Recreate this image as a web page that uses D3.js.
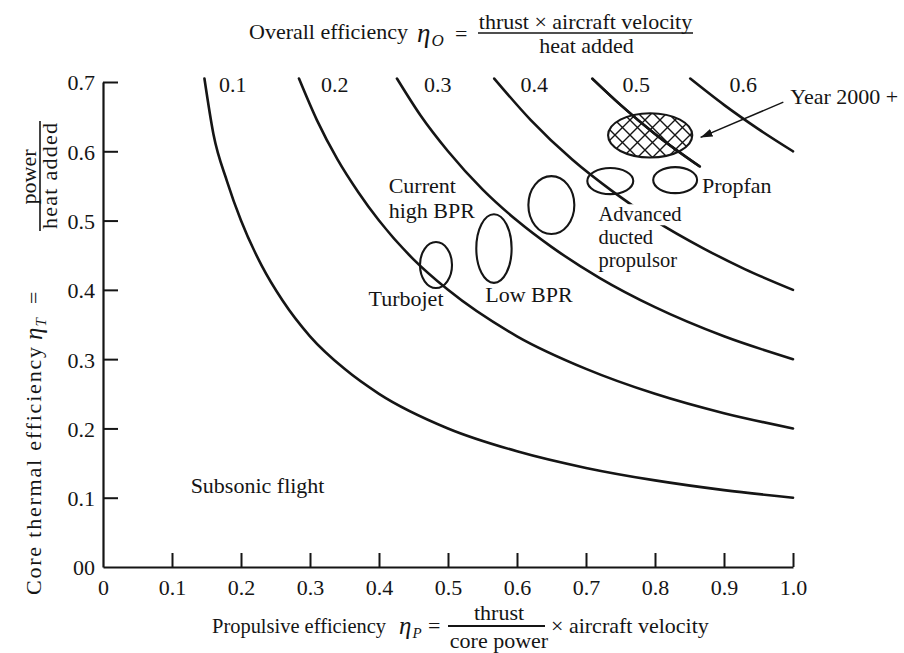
<!DOCTYPE html>
<html><head><meta charset="utf-8">
<script src="https://cdn.jsdelivr.net/npm/d3@7"></script>
<style>
body{margin:0;background:#fff;}
svg{display:block;}
text{font-family:"Liberation Serif","Times New Roman",serif;fill:#151515;}
</style>
</head><body>
<svg id="chart" width="904" height="653"></svg>
<script>
// ---------- data ----------
const xTicks = [0,0.1,0.2,0.3,0.4,0.5,0.6,0.7,0.8,0.9,1.0];
const xTickLabels = ["0","0.1","0.2","0.3","0.4","0.5","0.6","0.7","0.8","0.9","1.0"];
const yTicks = [0,0.1,0.2,0.3,0.4,0.5,0.6,0.7];
const yTickLabels = ["00","0.1","0.2","0.3","0.4","0.5","0.6","0.7"];

// overall efficiency iso-lines (eta_O = eta_P * eta_T)
const levelLabels = ["0.1","0.2","0.3","0.4","0.5","0.6"];
const levelLabelP = [0.188,0.336,0.485,0.625,0.773,0.928];
const c1P = [0.147,0.16,0.18,0.2,0.23,0.26,0.3,0.35,0.4,0.5,0.6,0.7,0.8,0.9,1.0];
const c1T = [0.705,0.625,0.556,0.5,0.435,0.385,0.333,0.286,0.25,0.2,0.167,0.143,0.125,0.111,0.1];
const c2P = [0.284,0.31,0.34,0.37,0.4,0.45,0.5,0.6,0.7,0.8,0.9,1.0];
const c2T = [0.705,0.645,0.588,0.541,0.5,0.444,0.4,0.333,0.286,0.25,0.222,0.2];
const c3P = [0.426,0.46,0.5,0.55,0.6,0.65,0.72,0.8,0.9,1.0];
const c3T = [0.705,0.652,0.6,0.545,0.5,0.462,0.417,0.375,0.333,0.3];
const c4P = [0.567,0.62,0.68,0.74,0.8,0.87,0.93,1.0];
const c4T = [0.705,0.645,0.588,0.541,0.5,0.46,0.43,0.4];
const c5P = [0.709,0.75,0.8,0.865];
const c5T = [0.705,0.667,0.625,0.578];
const c6P = [0.851,0.9,0.95,1.0];
const c6T = [0.705,0.667,0.632,0.6];

// engine regions (ellipses)
const regionNames = ["Turbojet","Low BPR","Current high BPR","Advanced ducted propulsor","Propfan","Year 2000 +"];
const regionCx = [0.4826,0.5666,0.6498,0.7352,0.8292,0.793];
const regionCy = [0.4358,0.4596,0.5224,0.5570,0.5584,0.623];
const regionRx = [0.0232,0.0256,0.0333,0.0333,0.0318,0.061];
const regionRy = [0.0332,0.0495,0.0418,0.0188,0.0188,0.032];
const regionHatched = [false,false,false,false,false,true];

// annotation texts
const noteLines = [["Subsonic flight"],["Current","high BPR"],["Turbojet"],["Low BPR"],["Advanced","ducted","propulsor"],["Propfan"],["Year 2000 +"]];
const noteP = [0.127,0.414,0.4935,0.554,0.718,0.868,0.996];
const noteT = [0.107,0.540,0.377,0.382,0.499,0.540,0.668];
const noteAnchor = ["start","start","end","start","start","start","start"];
const arrowFrom = [0.986,0.671];
const arrowTo = [0.866,0.620];

// ---------- drawing ----------
const svg = d3.select("#chart");
const x = d3.scaleLinear().domain([0,1]).range([103,793]);
const y = d3.scaleLinear().domain([0,0.7]).range([567,82]);
const ink = "#151515";
const FS = 22;

const defs = svg.append("defs");
const pat = defs.append("pattern").attr("id","hatch").attr("patternUnits","userSpaceOnUse")
  .attr("width",15).attr("height",15);
pat.append("path").attr("d","M-2,-2L17,17M-2,17L17,-2M-9,6L6,-9M9,24L24,9M6,24L-9,9M24,6L9,-9")
  .attr("stroke",ink).attr("stroke-width",1.4).attr("fill","none");
defs.append("marker").attr("id","arrow").attr("viewBox","0 0 12 8").attr("refX",12).attr("refY",4)
  .attr("markerWidth",12).attr("markerHeight",8).attr("markerUnits","userSpaceOnUse").attr("orient","auto")
  .append("path").attr("d","M0,0L12,4L0,8Z").attr("fill",ink);

// axes
const xAxis = d3.axisBottom(x).tickValues(xTicks).tickFormat((d,i)=>xTickLabels[i])
  .tickSizeInner(-14).tickSizeOuter(0).tickPadding(0);
const gx = svg.append("g").attr("transform",`translate(0,${y(0)})`).call(xAxis);
gx.selectAll("text").attr("y",28).attr("dy",0).style("font-size",FS+"px").attr("fill",ink);
const yAxis = d3.axisLeft(y).tickValues(yTicks).tickFormat((d,i)=>yTickLabels[i])
  .tickSizeInner(-15).tickSizeOuter(0).tickPadding(8);
const gy = svg.append("g").attr("transform",`translate(${x(0)},0)`).call(yAxis);
gy.selectAll("text").attr("dy","0.36em").style("font-size",FS+"px").attr("fill",ink);
svg.selectAll(".domain").attr("stroke",ink).attr("stroke-width",2.2);
svg.selectAll(".tick line").attr("stroke",ink).attr("stroke-width",2);
gx.selectAll(".tick").filter((d)=>d===0).select("line").remove();
gy.selectAll(".tick").filter((d)=>d===0).select("line").remove();

// curves
const curves = [[c1P,c1T],[c2P,c2T],[c3P,c3T],[c4P,c4T],[c5P,c5T],[c6P,c6T]];
const line = d3.line().x(d=>x(d[0])).y(d=>y(d[1])).curve(d3.curveMonotoneX);
curves.forEach(([P,T])=>{
  svg.append("path").datum(P.map((p,i)=>[p,T[i]])).attr("d",line)
    .attr("fill","none").attr("stroke",ink).attr("stroke-width",2.6).attr("stroke-linecap","round");
});
svg.append("g").selectAll("text").data(levelLabels).join("text")
  .attr("x",(d,i)=>x(levelLabelP[i])).attr("y",y(0.7)+10).attr("text-anchor","middle")
  .style("font-size",FS+"px").text(d=>d);

// ellipses
regionNames.forEach((n,i)=>{
  svg.append("ellipse").attr("cx",x(regionCx[i])).attr("cy",y(regionCy[i]))
    .attr("rx",x(regionRx[i])-x(0)).attr("ry",y(0)-y(regionRy[i]))
    .attr("fill",regionHatched[i]?"url(#hatch)":"none")
    .attr("stroke",ink).attr("stroke-width",2.1);
});
// re-draw 0.5 line over hatch so it stays visible
svg.append("path").datum(c5P.map((p,i)=>[p,c5T[i]])).attr("d",line)
  .attr("fill","none").attr("stroke",ink).attr("stroke-width",2.6);

// annotations (each line is its own text element)
noteLines.forEach((lines,i)=>{
  const fs = (i===4) ? 20.5 : FS;
  const gap = (i===1) ? 25 : 22.8;
  lines.forEach((l,j)=>{
    const t = svg.append("text").attr("x",x(noteP[i])).attr("y",y(noteT[i]) + j*gap)
      .attr("text-anchor",noteAnchor[i]).style("font-size",fs+"px").text(l);
    if(i===4 && j===0){
      const b = t.node().getBBox();
      svg.insert("rect", function(){return t.node();})
        .attr("x",b.x-2).attr("y",b.y+1).attr("width",b.width+4).attr("height",b.height-1)
        .attr("fill","#fff");
    }
  });
});
svg.append("line").attr("x1",x(arrowFrom[0])).attr("y1",y(arrowFrom[1]))
  .attr("x2",x(arrowTo[0])).attr("y2",y(arrowTo[1]))
  .attr("stroke",ink).attr("stroke-width",1.5).attr("marker-end","url(#arrow)");

// symbol helper: eta with subscript in one text element
function eta(g, xx, yy, sub, big, small, drop){
  const t = g.append("text").attr("x",xx).attr("y",yy).style("font-style","italic");
  t.append("tspan").style("font-size",big+"px").text("η");
  t.append("tspan").attr("dx",1).attr("dy",drop).style("font-size",small+"px").text(sub);
  return t;
}

// ---------- titles ----------
const title = svg.append("g");
title.append("text").attr("x",249).attr("y",39).style("font-size",FS+"px").text("Overall efficiency");
eta(title, 417, 42, "O", 27, 17, 4);
title.append("text").attr("x",455).attr("y",41).style("font-size",FS+"px").text("=");
title.append("text").attr("x",585.5).attr("y",29).attr("text-anchor","middle").style("font-size",FS+"px").text("thrust × aircraft velocity");
title.append("line").attr("x1",478).attr("x2",693).attr("y1",33).attr("y2",33).attr("stroke",ink).attr("stroke-width",1.5);
title.append("text").attr("x",586.5).attr("y",53).attr("text-anchor","middle").style("font-size",FS+"px").text("heat added");

const xl = svg.append("g");
xl.append("text").attr("x",212).attr("y",633).attr("textLength",174).attr("lengthAdjust","spacingAndGlyphs").style("font-size",FS+"px").text("Propulsive efficiency");
eta(xl, 399, 634, "P", 25, 15, 4);
xl.append("text").attr("x",428).attr("y",633).style("font-size",FS+"px").text("=");
xl.append("text").attr("x",499).attr("y",620).attr("text-anchor","middle").style("font-size",FS+"px").text("thrust");
xl.append("line").attr("x1",448).attr("x2",545).attr("y1",626).attr("y2",626).attr("stroke",ink).attr("stroke-width",2);
xl.append("text").attr("x",499).attr("y",648).attr("text-anchor","middle").style("font-size",FS+"px").text("core power");
xl.append("text").attr("x",551).attr("y",633).style("font-size",FS+"px").text("× aircraft velocity");

const yl = svg.append("g").attr("transform","translate(41,605) rotate(-90)");
yl.append("text").attr("x",10).attr("y",0).attr("textLength",248).attr("lengthAdjust","spacing").style("font-size",FS+"px").text("Core thermal efficiency");
eta(yl, 265, 1, "T", 25, 15, 4);
yl.append("text").attr("x",301).attr("y",0).style("font-size",FS+"px").text("=");
yl.append("text").attr("x",428).attr("y",-5).attr("text-anchor","middle").style("font-size",FS+"px").text("power");
yl.append("line").attr("x1",374).attr("x2",484).attr("y1",-1).attr("y2",-1).attr("stroke",ink).attr("stroke-width",1.6);
yl.append("text").attr("x",429).attr("y",16).attr("text-anchor","middle").attr("textLength",106).attr("lengthAdjust","spacing").style("font-size",FS+"px").text("heat added");
</script>
</body></html>
